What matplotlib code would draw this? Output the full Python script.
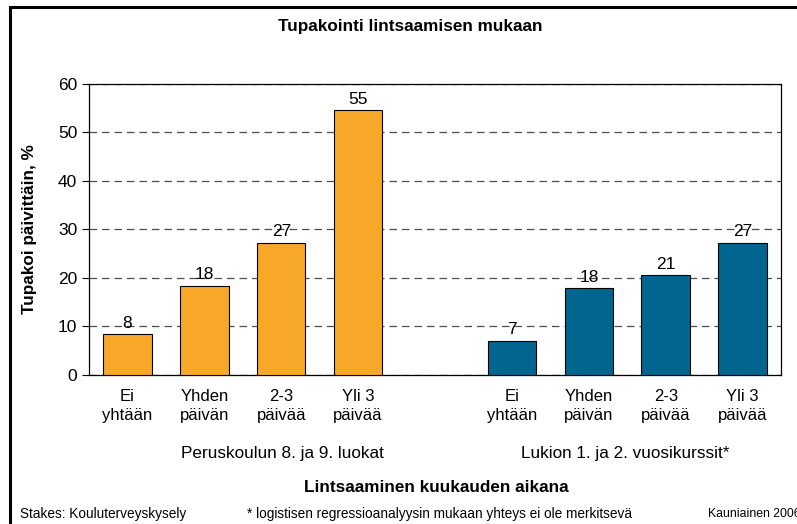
import matplotlib
matplotlib.use("Agg")
import matplotlib.pyplot as plt
from matplotlib.patches import Rectangle
import numpy as np

plt.rcParams['font.family'] = ['Liberation Sans', 'DejaVu Sans']

categories = ["Ei\nyhtään", "Yhden\npäivän", "2-3\npäivää", "Yli 3\npäivää"]
peruskoulu = [8.4, 18.4, 27.3, 54.6]
lukio = [7.1, 17.9, 20.6, 27.3]
peruskoulu_labels = ["8", "18", "27", "55"]
lukio_labels = ["7", "18", "21", "27"]
groups = ["Peruskoulun 8. ja 9. luokat", "Lukion 1. ja 2. vuosikurssit*"]

orange = "#F7A829"
teal = "#00668F"

fig = plt.figure(figsize=(7.97, 5.24), dpi=100)
ax = fig.add_axes([0.1117, 0.2844, 0.8683, 0.5553])

x1 = np.arange(4)
x2 = np.arange(4) + 5
w = 0.63
ax.bar(x1, peruskoulu, w, color=orange, edgecolor="black", linewidth=0.8, zorder=3)
ax.bar(x2, lukio, w, color=teal, edgecolor="black", linewidth=0.8, zorder=3)

for xs, vals, labs in [(x1, peruskoulu, peruskoulu_labels), (x2, lukio, lukio_labels)]:
    for xi, v, lab in zip(xs, vals, labs):
        ax.annotate(lab, (xi, v), xytext=(0, 2.5), textcoords="offset points",
                    ha="center", va="bottom", fontsize=12.5, zorder=4)

ax.set_xlim(-0.5, 8.5)
ax.set_ylim(0, 60)
ax.set_yticks(range(0, 61, 10))
ax.tick_params(axis="y", labelsize=12.5, length=5, width=0.8)
ax.set_xticks(list(x1) + list(x2))
ax.set_xticklabels(categories * 2, fontsize=12, linespacing=1.35)
ax.tick_params(axis="x", length=0, pad=10)
ax.yaxis.grid(True, color="#222222", linestyle=(0, (6, 4)), linewidth=0.9, alpha=0.8)
ax.set_axisbelow(True)
for s in ax.spines.values():
    s.set_linewidth(0.9)
    s.set_color("black")

fig.text(30 / 797, 1 - 229 / 524, "Tupakoi päivittäin, %", rotation=90,
         ha="center", va="center", fontsize=12.3, fontweight="bold")
fig.text(410 / 797, 1 - 27 / 524, "Tupakointi lintsaamisen mukaan",
         ha="center", va="center", fontsize=12.3, fontweight="bold")

ax.text(2.01, -16.2, groups[0], ha="center", va="center", fontsize=12.3)
ax.text(6.47, -16.2, groups[1], ha="center", va="center", fontsize=12.3)
fig.text(436 / 797, 1 - 487 / 524, "Lintsaaminen kuukauden aikana",
         ha="center", va="center", fontsize=12.3, fontweight="bold")

fig.text(20 / 797, 1 - 514 / 524, "Stakes: Kouluterveyskysely", ha="left", va="center", fontsize=9.8)
fig.text(247 / 797, 1 - 514 / 524, "* logistisen regressioanalyysin mukaan yhteys ei ole merkitsevä",
         ha="left", va="center", fontsize=9.8)
fig.text(708 / 797, 1 - 514 / 524, "Kauniainen 2006", ha="left", va="center", fontsize=8.8)

fig.add_artist(Rectangle((9.5 / 797, -0.1), 1.2, 1.1 - 7 / 524, transform=fig.transFigure,
                         fill=False, linewidth=2.2, edgecolor="black"))

fig.savefig("out.png", dpi=100)
